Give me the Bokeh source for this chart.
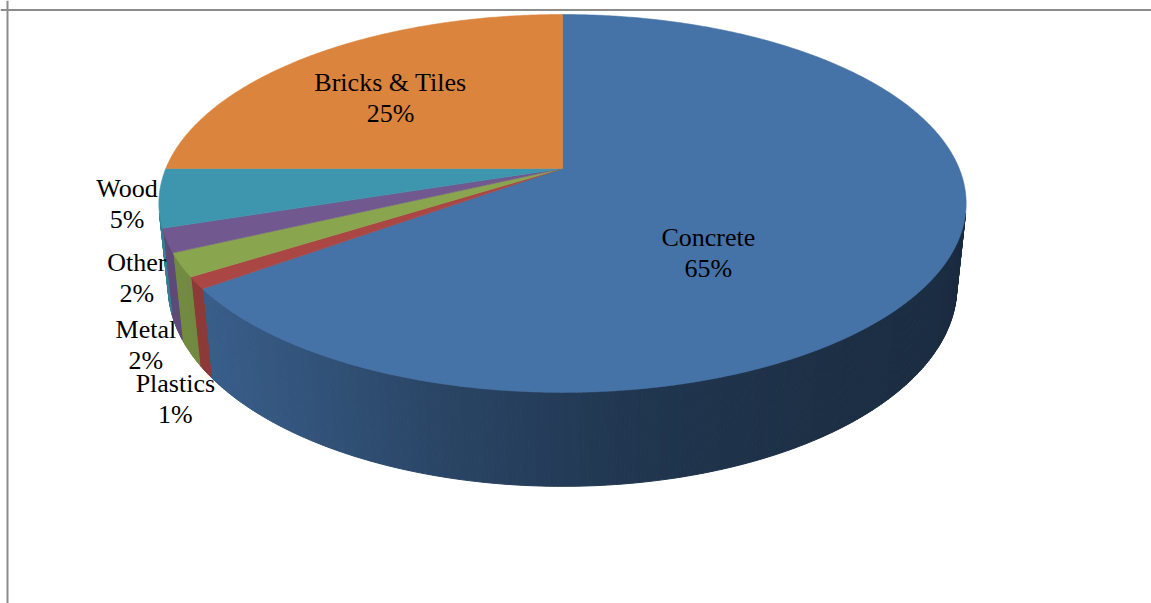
import numpy as np
from bokeh.plotting import figure
from bokeh.models import Range1d, Span
from bokeh.embed import file_html
from bokeh.resources import INLINE
from bokeh.core.properties import value

# ---- data -------------------------------------------------------------
categories = ["Concrete", "Plastics", "Metal", "Other", "Wood", "Bricks & Tiles"]
shares = [65, 1, 2, 2, 5, 25]
colors = ["#4572A7", "#AA4643", "#89A54E", "#71588F", "#3D96AE", "#DB843D"]

# ---- layout / style ---------------------------------------------------
label_offsets = [(-240, -21), (-21, 101), (-35, 64), (-30, 22), (-32, -9), (76, 28)]
LINE_GAP = 31

W, H = 1151, 603
CX, CY = 562.0, 168.0          # projected pie centre
F, L = 1904.0, 4.8              # focal length / camera distance
SPHI = 0.46
CPHI = np.sqrt(1 - SPHI ** 2)
DEPTH = 0.238                   # cylinder thickness (radius = 1)

def project(t, z, r=1.0):
    X = r * np.cos(t)
    Y = r * np.sin(t)
    d = L + Y * CPHI - z * SPHI
    return CX + F * X / d, CY - F * (Y * SPHI + z * CPHI) / d

def shade(hexcol, k):
    h = hexcol.lstrip("#")
    r, g, b = (int(h[i:i + 2], 16) for i in (0, 2, 4))
    return "#%02x%02x%02x" % (int(r * k), int(g * k), int(b * k))

grad_x = [160, 250, 450, 650, 850, 970]
grad_k = [0.86, 0.79, 0.60, 0.47, 0.41, 0.39]

p = figure(width=W, height=H, output_backend="svg", toolbar_location=None,
           x_range=Range1d(0, W), y_range=Range1d(H, 0),
           min_border=0)
p.axis.visible = False
p.grid.visible = False
p.outline_line_color = None
p.background_fill_color = "white"
p.border_fill_color = "white"

total = float(sum(shares))
cum = np.concatenate([[0], np.cumsum(shares)]) / total
# angles in degrees (std orientation), clockwise from 12 o'clock
hi_deg = 90 - cum[:-1] * 360
lo_deg = 90 - cum[1:] * 360

# ---- side walls ------------------------------------------------------
lim = np.degrees(np.arcsin(1.0 / (L * CPHI)))
vis_lo, vis_hi = -180 + lim, -lim
side_xs, side_ys, side_cols = [], [], []
for i in range(len(shares)):
    a = max(lo_deg[i], vis_lo)
    b = min(hi_deg[i], vis_hi)
    if b <= a:
        continue
    n = max(2, int(np.ceil((b - a) / 0.5)) + 1)
    ts = np.radians(np.linspace(a, b, n))
    for j in range(n - 1):
        t0, t1 = ts[j], ts[j + 1]
        x0, y0 = project(t0, 0)
        x1, y1 = project(t1, 0)
        x2, y2 = project(t1, -DEPTH)
        x3, y3 = project(t0, -DEPTH)
        side_xs.append([x0, x1, x2, x3])
        side_ys.append([y0, y1, y2, y3])
        xm = (x0 + x1 + x2 + x3) / 4
        side_cols.append(shade(colors[i], float(np.interp(xm, grad_x, grad_k))))
p.patches(side_xs, side_ys, fill_color=side_cols, line_color=side_cols, line_width=1.0)

# ---- top faces -------------------------------------------------------
top_xs, top_ys = [], []
for i in range(len(shares)):
    n = max(3, int(np.ceil((hi_deg[i] - lo_deg[i]) / 0.5)) + 1)
    ts = np.radians(np.linspace(lo_deg[i], hi_deg[i], n))
    rx, ry = project(ts, 0)
    top_xs.append([CX] + list(rx))
    top_ys.append([CY] + list(ry))
p.patches(top_xs, top_ys, fill_color=colors, line_color=colors, line_width=0.6)

# ---- labels ----------------------------------------------------------
mid = np.radians((lo_deg + hi_deg) / 2)
ax, ay = project(mid, 0)
lx = [ax[i] + label_offsets[i][0] for i in range(len(shares))]
ly = [ay[i] + label_offsets[i][1] for i in range(len(shares))]
pct = ["%d%%" % round(s / total * 100) for s in shares]
font = dict(text_font=value("Liberation Serif"), text_font_size="26px",
            text_align="center", text_baseline="alphabetic", text_color="black")
p.text(x=lx, y=ly, text=categories, **font)
p.text(x=lx, y=[v + LINE_GAP for v in ly], text=pct, **font)

# ---- chart frame -----------------------------------------------------
p.add_layout(Span(location=9.5, dimension="width", line_color="#8c8c8c", line_width=2))
p.add_layout(Span(location=7, dimension="height", line_color="#8c8c8c", line_width=2))

open("out.html", "w").write(file_html(p, INLINE))
